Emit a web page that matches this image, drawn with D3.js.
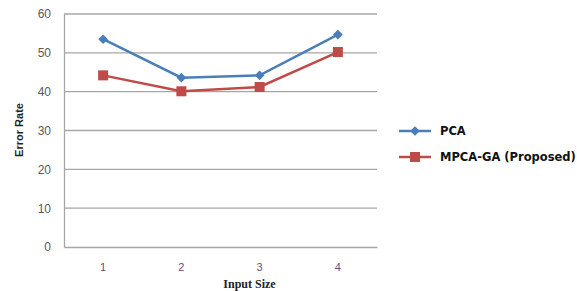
<!DOCTYPE html>
<html>
<head>
<meta charset="utf-8">
<script src="https://cdn.jsdelivr.net/npm/d3@7"></script>
<style>
  body { margin: 0; background: #fff; }
</style>
</head>
<body>
<div id="chart"></div>
<script>
const categories = ['1', '2', '3', '4'];
const pcaValues = [53.5, 43.6, 44.2, 54.7];
const mpcaValues = [44.2, 40.1, 41.2, 50.2];
const yTicks = [0, 10, 20, 30, 40, 50, 60];
const seriesNames = ['PCA', 'MPCA-GA (Proposed)'];

const width = 577, height = 291;
const plot = {left: 64, right: 377, top: 14, bottom: 247};

const svg = d3.select('#chart').append('svg')
  .attr('width', width)
  .attr('height', height);

const x = d3.scaleBand().domain(categories).range([plot.left, plot.right]);
const y = d3.scaleLinear().domain([0, 60]).range([plot.bottom, plot.top]);

// gridlines
svg.append('g')
  .selectAll('line')
  .data(yTicks.filter(d => d > 0))
  .enter().append('line')
  .attr('x1', plot.left).attr('x2', plot.right)
  .attr('y1', d => y(d)).attr('y2', d => y(d))
  .attr('stroke', '#a6a6a6').attr('stroke-width', 1.3);

// y axis
const yAxis = svg.append('g')
  .attr('transform', `translate(${plot.left},0)`)
  .call(d3.axisLeft(y).tickValues(yTicks).tickSize(0).tickPadding(13));
yAxis.select('.domain').attr('stroke', '#a6a6a6').attr('stroke-width', 1.3);
yAxis.selectAll('text')
  .attr('fill', '#595959')
  .style('font', '12px "Liberation Sans", Arial, sans-serif');

// x axis
const xAxis = svg.append('g')
  .attr('transform', `translate(0,${plot.bottom})`)
  .call(d3.axisBottom(x).tickSize(0).tickPadding(16));
xAxis.select('.domain').attr('stroke', '#a6a6a6').attr('stroke-width', 1.3);
xAxis.selectAll('text')
  .attr('fill', '#6a4a7a')
  .style('font', '11px "Liberation Sans", Arial, sans-serif');

// axis titles
svg.append('text')
  .attr('x', (plot.left + plot.right) / 2 + 29)
  .attr('y', 288)
  .attr('text-anchor', 'middle')
  .style('font', 'bold 12px "Liberation Serif", "DejaVu Serif", serif')
  .attr('fill', '#222')
  .text('Input Size');

svg.append('text')
  .attr('transform', 'translate(23,130) rotate(-90)')
  .attr('text-anchor', 'middle')
  .style('font', 'bold 11px "Liberation Sans Narrow", "Liberation Sans", sans-serif')
  .attr('fill', '#222')
  .text('Error Rate');

const series = [
  {name: seriesNames[0], values: pcaValues, color: '#4a7ebb', marker: 'diamond'},
  {name: seriesNames[1], values: mpcaValues, color: '#be4b48', marker: 'square'}
];

const line = d3.line()
  .x((d, i) => x(categories[i]) + x.bandwidth() / 2)
  .y(d => y(d));

function drawMarker(g, type, color) {
  if (type === 'diamond') {
    g.append('path')
      .attr('d', d3.symbol().type(d3.symbolDiamond2).size(60))
      .attr('fill', color);
  } else {
    g.append('rect')
      .attr('x', -5).attr('y', -5).attr('width', 10).attr('height', 10)
      .attr('fill', color);
  }
}

series.forEach(s => {
  svg.append('path')
    .datum(s.values)
    .attr('d', line)
    .attr('fill', 'none')
    .attr('stroke', s.color)
    .attr('stroke-width', 2.5);

  s.values.forEach((v, i) => {
    const g = svg.append('g')
      .attr('transform', `translate(${x(categories[i]) + x.bandwidth() / 2},${y(v)})`);
    drawMarker(g, s.marker, s.color);
  });
});

// legend
const legend = svg.append('g');
series.forEach((s, i) => {
  const ly = 131 + i * 26;
  legend.append('line')
    .attr('x1', 399).attr('x2', 431)
    .attr('y1', ly).attr('y2', ly)
    .attr('stroke', s.color).attr('stroke-width', 2.5);
  const g = legend.append('g').attr('transform', `translate(415,${ly})`);
  drawMarker(g, s.marker, s.color);
  legend.append('text')
    .attr('x', 440).attr('y', ly + 4)
    .style('font', 'bold 11.5px "DejaVu Sans", Verdana, sans-serif')
    .attr('fill', '#111')
    .text(s.name);
});
</script>
</body>
</html>
